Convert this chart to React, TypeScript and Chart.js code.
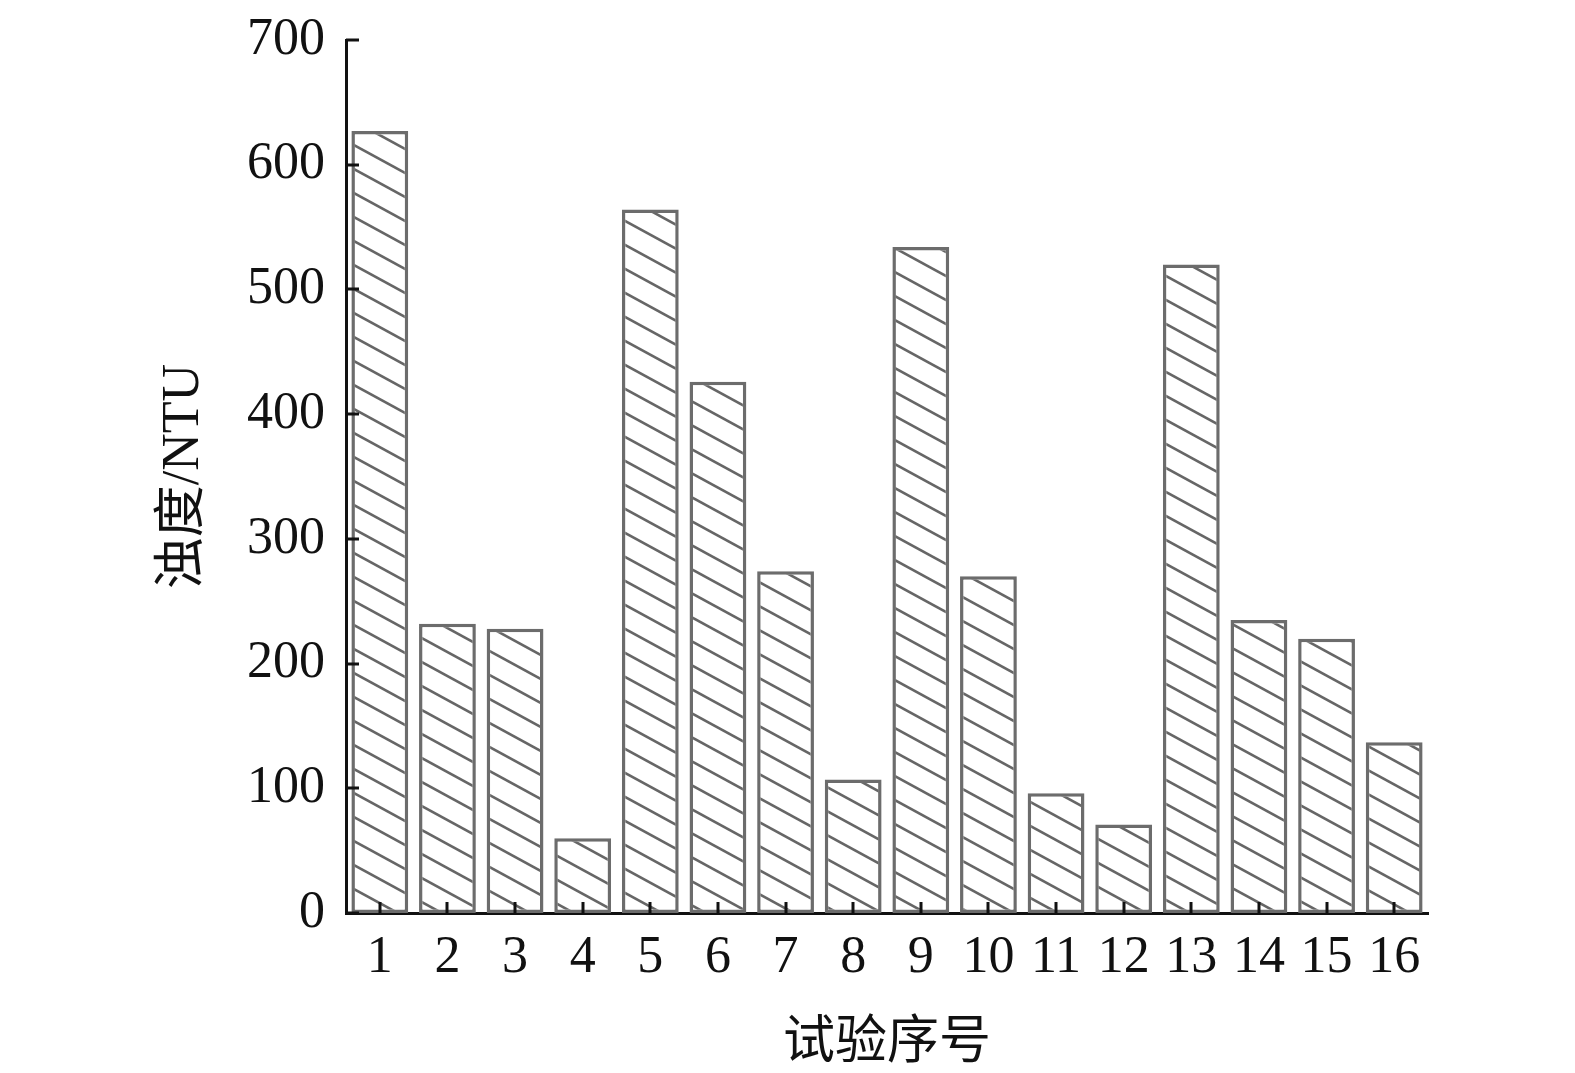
import React, { useEffect, useRef } from "react";
import { Chart, registerables } from "chart.js";

Chart.register(...registerables);

const categories = ["1", "2", "3", "4", "5", "6", "7", "8", "9", "10", "11", "12", "13", "14", "15", "16"];
const turbidity = [627, 232, 228, 60, 564, 426, 274, 107, 534, 270, 96, 71, 520, 235, 220, 137];
const yTicks = [0, 100, 200, 300, 400, 500, 600, 700];

const FONT = "'Liberation Serif', 'Noto Sans CJK SC', serif";

function makeHatch(): CanvasPattern | string {
  const W = 44;
  const H = 24;
  const c = document.createElement("canvas");
  c.width = W;
  c.height = H;
  const g = c.getContext("2d");
  if (!g) return "#fff";
  g.fillStyle = "#ffffff";
  g.fillRect(0, 0, W, H);
  g.strokeStyle = "#666666";
  g.lineWidth = 2.6;
  for (const dy of [-H, 0, H]) {
    g.beginPath();
    g.moveTo(-W, -H + dy);
    g.lineTo(2 * W, 2 * H + dy);
    g.stroke();
  }
  const p = g.createPattern(c, "repeat");
  return p || "#fff";
}

const inwardTicks = {
  id: "inwardTicks",
  afterDraw(chart: any) {
    const { ctx, chartArea, scales } = chart;
    const x = scales.x;
    const y = scales.y;
    ctx.save();
    ctx.strokeStyle = "#111";
    ctx.lineWidth = 3;
    yTicks.forEach((v) => {
      const py = Math.round(y.getPixelForValue(v));
      ctx.beginPath();
      ctx.moveTo(chartArea.left, py);
      ctx.lineTo(chartArea.left + 13, py);
      ctx.stroke();
    });
    categories.forEach((_, i) => {
      const px = Math.round(x.getPixelForValue(i));
      ctx.beginPath();
      ctx.moveTo(px, chartArea.bottom);
      ctx.lineTo(px, chartArea.bottom - 11);
      ctx.stroke();
    });
    ctx.restore();
  },
};

export default function App() {
  const ref = useRef<HTMLCanvasElement | null>(null);

  useEffect(() => {
    if (!ref.current) return;
    const hatch = makeHatch();
    const chart = new Chart(ref.current, {
      type: "bar",
      data: {
        labels: categories,
        datasets: [
          {
            data: turbidity,
            backgroundColor: hatch as any,
            borderColor: "#6c6c6c",
            borderWidth: 3.5,
            borderSkipped: false,
            barPercentage: 0.84,
            categoryPercentage: 1,
          },
        ],
      },
      options: {
        animation: false,
        responsive: false,
        devicePixelRatio: 1,
        layout: { padding: { left: 0, right: 147, top: 40, bottom: 0 } },
        plugins: { legend: { display: false }, tooltip: { enabled: false } },
        scales: {
          x: {
            grid: { display: false, drawTicks: false },
            border: { display: true, color: "#111", width: 3 },
            ticks: {
              color: "#111",
              font: { family: FONT, size: 52 },
              padding: 14,
              maxRotation: 0,
              autoSkip: false,
            },
            title: {
              display: true,
              text: "试验序号",
              color: "#111",
              font: { family: FONT, size: 52, lineHeight: 1.1 },
              padding: { top: 0, bottom: 0 },
            },
            afterFit: (s: any) => {
              s.height = 160;
            },
          },
          y: {
            min: 0,
            max: 700,
            grid: { display: false, drawTicks: false },
            border: { display: true, color: "#111", width: 3 },
            ticks: {
              stepSize: 100,
              color: "#111",
              font: { family: FONT, size: 52, lineHeight: 0.6 },
              padding: 21,
            },
            title: {
              display: true,
              text: "浊度/NTU",
              color: "#111",
              font: { family: FONT, size: 52 },
              padding: { top: 153, bottom: 0 },
            },
            afterFit: (s: any) => {
              s.width = 346;
            },
          },
        },
      },
      plugins: [inwardTicks],
    });
    return () => chart.destroy();
  }, []);

  return (
    <div style={{ position: "fixed", left: 0, top: 0, width: 1575, height: 1073, background: "#fff" }}>
      <canvas ref={ref} width={1575} height={1073} style={{ width: 1575, height: 1073 }} />
    </div>
  );
}
